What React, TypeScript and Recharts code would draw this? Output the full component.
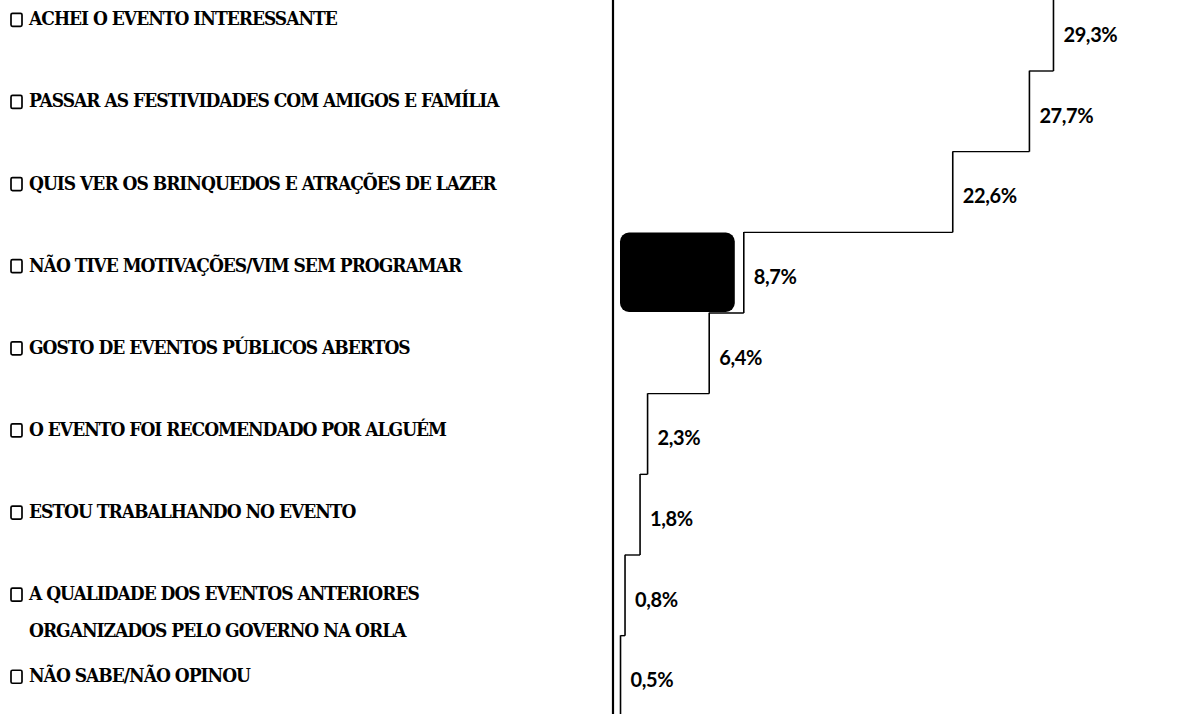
import React from 'react';
import { BarChart, Bar, XAxis, YAxis, LabelList } from 'recharts';

const categories: string[] = [
  'ACHEI O EVENTO INTERESSANTE',
  'PASSAR AS FESTIVIDADES COM AMIGOS E FAMÍLIA',
  'QUIS VER OS BRINQUEDOS E ATRAÇÕES DE LAZER',
  'NÃO TIVE MOTIVAÇÕES/VIM SEM PROGRAMAR',
  'GOSTO DE EVENTOS PÚBLICOS ABERTOS',
  'O EVENTO FOI RECOMENDADO POR ALGUÉM',
  'ESTOU TRABALHANDO NO EVENTO',
  'A QUALIDADE DOS EVENTOS ANTERIORES\nORGANIZADOS PELO GOVERNO NA ORLA',
  'NÃO SABE/NÃO OPINOU',
];

const values: number[] = [29.3, 27.7, 22.6, 8.7, 6.4, 2.3, 1.8, 0.8, 0.5];

const highlightedCategory = 'NÃO TIVE MOTIVAÇÕES/VIM SEM PROGRAMAR';

const data = categories.map((label, i) => ({
  label,
  value: values[i],
  next: i + 1 < values.length ? values[i + 1] : null,
  highlight: label === highlightedCategory,
}));

const LABEL_FONT = '"DejaVu Serif Condensed", "DejaVu Serif", serif';
const VALUE_FONT = 'Lato, "Open Sans", sans-serif';

const CategoryTick = (props: any) => {
  const { y, payload, index } = props;
  const lines = String(payload.value).split('\n');
  const idx = typeof index === 'number' ? index : 0;
  const cy = y - 12 + idx * 1.45;
  return (
    <g>
      <rect x={11} y={cy - 5} width={11} height={13} fill="none" stroke="#000" strokeWidth={1.7} rx={1.5} />
      {lines.map((ln, i) => (
        <text
          key={i}
          x={29}
          y={cy + i * 37}
          dy={7}
          fontFamily={LABEL_FONT}
          fontWeight="bold"
          fontSize={19}
          letterSpacing={-1}
          fill="#000"
          textAnchor="start"
        >
          {ln}
        </text>
      ))}
    </g>
  );
};

const StepBar = (props: any) => {
  const { x, y, width, height, payload } = props;
  const right = x + width;
  const next = payload.next;
  const parts: React.ReactNode[] = [];
  if (payload.highlight) {
    parts.push(
      <rect key="blk" x={x + 7} y={y + 0.5} width={Math.max(0, width - 16)} height={height - 1.5} rx={9} ry={9} fill="#000" />
    );
  }
  parts.push(<line key="v" x1={right} y1={y} x2={right} y2={y + height} stroke="#000" strokeWidth={1.6} />);
  if (next !== null && next !== undefined) {
    const nextRight = x + (width * next) / payload.value;
    parts.push(
      <line key="h" x1={nextRight} y1={y + height} x2={right} y2={y + height} stroke="#000" strokeWidth={1.4} />
    );
  }
  return <g>{parts}</g>;
};

const fmt = (v: any) => `${Number(v).toFixed(1).replace('.', ',')}%`;

const ValueLabel = (props: any) => {
  const { x, y, width, height, value } = props;
  return (
    <text
      x={x + width + 10}
      y={y + height / 2 + 4.5}
      dy={7}
      fontFamily={VALUE_FONT}
      fontWeight="bold"
      fontSize={20}
      letterSpacing={-0.4}
      fill="#000"
      textAnchor="start"
    >
      {fmt(value)}
    </text>
  );
};

export default function App() {
  return (
    <div style={{ position: 'absolute', left: 0, top: -10, width: 1196, height: 726, background: '#fff' }}>
      <BarChart
        width={1196}
        height={726}
        data={data}
        layout="vertical"
        margin={{ top: 0, right: 132, bottom: 0, left: 0 }}
        barCategoryGap={0}
      >
        <XAxis type="number" domain={[0, 30]} hide />
        <YAxis
          type="category"
          dataKey="label"
          width={613}
          axisLine={{ stroke: '#000', strokeWidth: 2.2 }}
          tickLine={false}
          tick={<CategoryTick />}
          interval={0}
        />
        <Bar dataKey="value" shape={<StepBar />} isAnimationActive={false}>
          <LabelList dataKey="value" content={<ValueLabel />} />
        </Bar>
      </BarChart>
    </div>
  );
}
